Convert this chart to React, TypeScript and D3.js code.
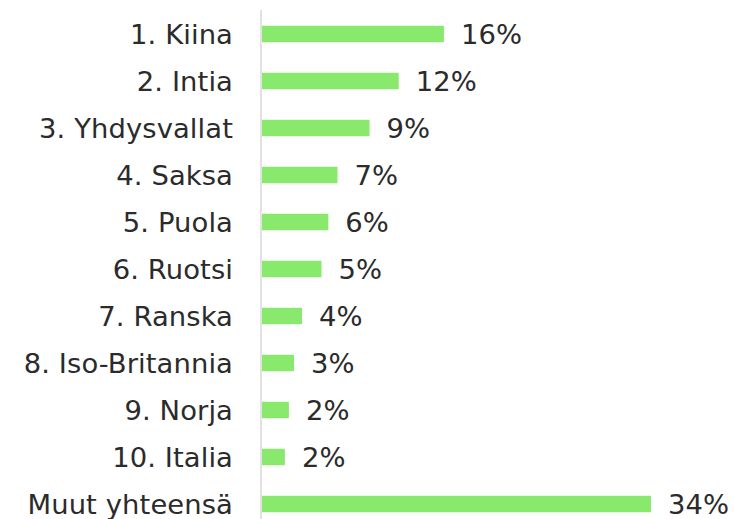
import React from "react";
import * as d3 from "d3";

const categories = [
  "1. Kiina",
  "2. Intia",
  "3. Yhdysvallat",
  "4. Saksa",
  "5. Puola",
  "6. Ruotsi",
  "7. Ranska",
  "8. Iso-Britannia",
  "9. Norja",
  "10. Italia",
  "Muut yhteensä",
];
const values = [15.9, 11.95, 9.4, 6.6, 5.8, 5.2, 3.5, 2.8, 2.35, 2.0, 34.0];

const W = 734;
const H = 519;

export default function App() {
  const x = d3.scaleLinear().domain([0, 40]).range([262, 262 + 11.44 * 40]);
  const y = d3.scaleBand<string>().domain(categories).range([10.5, 527.5]).padding(0);
  const bh = y.bandwidth() * 0.35;
  const font = "'DejaVu Sans', Verdana, sans-serif";
  const fmt = (v: number) => `${Math.round(v)}%`;
  return (
    <svg
      width={W}
      height={H}
      style={{ position: "absolute", left: 0, top: 0, display: "block", background: "#fff" }}
    >
      {categories.map((c, i) => {
        const cy = (y(c) as number) + y.bandwidth() / 2;
        return (
          <g key={c}>
            <rect x={x(0)} y={cy - bh / 2} width={x(values[i]) - x(0)} height={bh} fill="#88E96C" />
            <text
              x={233}
              y={cy}
              dy="0.36em"
              textAnchor="end"
              fontFamily={font}
              fontSize={27.4}
              letterSpacing={0.1}
              fill="#2b2b2b"
            >
              {c}
            </text>
            <text
              x={x(values[i]) + 17}
              y={cy}
              dy="0.36em"
              textAnchor="start"
              fontFamily={font}
              fontSize={27.4}
              letterSpacing={0.1}
              fill="#2b2b2b"
            >
              {fmt(values[i])}
            </text>
          </g>
        );
      })}
      <line x1={261} x2={261} y1={10} y2={H} stroke="#d9d9d9" strokeWidth={1.5} />
    </svg>
  );
}
